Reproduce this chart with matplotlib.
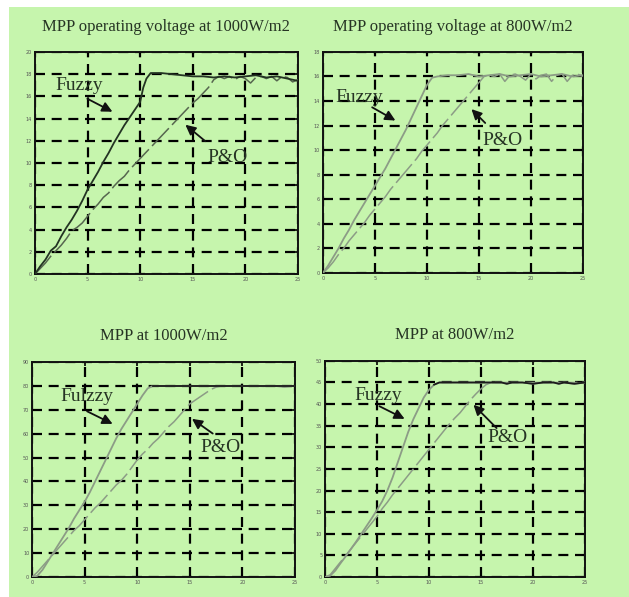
import numpy as np
import matplotlib
matplotlib.use("Agg")
import matplotlib.pyplot as plt
from matplotlib.patches import Rectangle

# ---- data (time axis 0..25) ----
# MPP operating voltage at 1000 W/m2
v1000_fz_x = [0, 0.5, 1, 1.5, 2, 2.5, 3, 3.5, 4, 4.5, 5, 5.5, 6, 6.5, 7, 7.5, 8, 8.5, 9, 9.5, 10,
              10.3, 10.6, 11, 12, 13, 14, 15, 16, 17, 18, 19, 20, 21, 22, 23, 24, 25]
v1000_fz_y = [0, 0.7, 1.3, 2.1, 2.5, 3.4, 4.2, 4.9, 5.7, 6.6, 7.6, 8.4, 9.2, 10.1, 10.9, 11.8, 12.6,
              13.4, 14.1, 14.8, 15.5, 16.8, 17.6, 18.1, 18.1, 18.0, 17.9, 17.8, 17.8, 17.7, 17.8,
              17.7, 17.8, 17.9, 17.7, 17.8, 17.6, 17.4]
v1000_po_x = [0, 0.5, 1, 1.5, 2, 2.5, 3, 3.5, 4, 4.5, 5, 5.5, 6, 6.5, 7, 7.5, 8, 8.5, 9, 9.5, 10,
              10.5, 11, 11.5, 12, 12.5, 13, 13.5, 14, 14.5, 15, 15.5, 16, 16.5, 17, 17.5, 18, 18.5,
              19, 19.5, 20, 20.5, 21, 21.5, 22, 22.5, 23, 23.5, 24, 24.5, 25]
v1000_po_y = [0, 0.5, 1.0, 1.6, 2.1, 2.6, 3.2, 3.9, 4.2, 4.6, 5.2, 5.8, 6.3, 6.9, 7.3, 7.9, 8.4,
              8.8, 9.4, 9.9, 10.4, 10.9, 11.4, 11.9, 12.4, 12.9, 13.4, 13.9, 14.4, 14.9, 15.4,
              15.8, 16.3, 16.8, 17.5, 17.8, 17.6, 17.8, 17.5, 17.8, 17.6, 17.2, 17.7, 17.8, 17.6,
              17.8, 17.4, 17.8, 17.7, 17.3, 17.5]

# MPP operating voltage at 800 W/m2
v800_fz_x = [0, 0.5, 1, 1.5, 2, 2.5, 3, 3.5, 4, 4.5, 5, 5.5, 6, 6.5, 7, 7.5, 8, 8.5, 9, 9.5, 10,
             10.5, 11, 12, 13, 14, 15, 16, 17, 18, 19, 20, 21, 22, 23, 24, 25]
v800_fz_y = [0, 0.6, 1.3, 2.0, 2.8, 3.5, 4.3, 5.0, 5.7, 6.4, 7.1, 7.8, 8.5, 9.3, 10.1, 10.9, 11.7,
             12.6, 13.5, 14.4, 15.3, 15.9, 16.0, 16.1, 16.1, 16.2, 16.0, 16.1, 16.2, 16.0, 16.1,
             16.2, 16.0, 16.1, 16.2, 16.0, 16.1]
v800_po_x = [0, 0.5, 1, 1.5, 2, 2.5, 3, 3.5, 4, 4.5, 5, 5.5, 6, 6.5, 7, 7.5, 8, 8.5, 9, 9.5, 10,
             10.5, 11, 11.5, 12, 12.5, 13, 13.5, 14, 14.5, 15, 15.5, 16, 16.5, 17, 17.5, 18, 18.5,
             19, 19.5, 20, 20.5, 21, 21.5, 22, 22.5, 23, 23.5, 24, 24.5, 25]
v800_po_y = [0, 0.4, 0.9, 1.5, 2.0, 2.6, 3.1, 3.6, 4.1, 4.7, 5.2, 5.7, 6.2, 6.8, 7.3, 7.8, 8.3,
             8.8, 9.3, 9.9, 10.4, 10.9, 11.4, 12.0, 12.5, 13.0, 13.5, 14.0, 14.5, 15.0, 15.5,
             16.0, 16.1, 16.0, 16.2, 15.6, 16.1, 16.2, 16.0, 15.7, 16.2, 15.8, 16.1, 16.2, 15.6,
             16.1, 16.2, 15.6, 16.1, 16.2, 16.0]

# MPP at 1000 W/m2
p1000_fz_x = [0, 0.5, 1, 1.5, 2, 2.5, 3, 3.5, 4, 4.5, 5, 5.5, 6, 6.5, 7, 7.5, 8, 8.5, 9, 9.5, 10,
              10.5, 11, 11.5, 12, 13, 14, 15, 16, 17, 18, 19, 20, 21, 22, 23, 24, 25]
p1000_fz_y = [0, 0.5, 3, 6.5, 10, 13.5, 17, 20.5, 24.5, 28, 31.5, 35.5, 40, 44.5, 49, 53.5, 58,
              62, 65.5, 69, 72.5, 76, 79, 80, 80, 80, 80, 80, 80, 80, 80, 80, 80, 80, 80, 80, 80, 80]
p1000_po_x = [0, 0.5, 1, 1.5, 2, 2.5, 3, 3.5, 4, 4.5, 5, 5.5, 6, 6.5, 7, 7.5, 8, 8.5, 9, 9.5, 10,
              10.5, 11, 11.5, 12, 12.5, 13, 13.5, 14, 14.5, 15, 15.5, 16, 16.5, 17, 17.5, 18, 19,
              20, 21, 22, 23, 24, 25]
p1000_po_y = [0, 2, 4.5, 7, 9.5, 12, 14.5, 17, 19.5, 21.5, 24, 26.5, 29, 31, 33.5, 36, 38.5, 40.5,
              43, 46, 49, 51.5, 53.5, 56, 58, 60.5, 63, 65, 67.5, 70, 72.5, 74, 75.5, 77, 78.5,
              79.5, 80, 80, 80, 80, 79.8, 80, 79.5, 80]

# MPP at 800 W/m2
p800_fz_x = [0, 0.5, 1, 1.5, 2, 2.5, 3, 3.5, 4, 4.5, 5, 5.5, 6, 6.5, 7, 7.5, 8, 8.5, 9, 9.5, 10,
             10.5, 11, 12, 13, 14, 15, 16, 17, 17.5, 18, 19, 20, 21, 22, 22.5, 23, 24, 25]
p800_fz_y = [0, 0.3, 1.5, 3.2, 4.8, 6.5, 8.2, 10, 11.8, 13.6, 15.5, 17.5, 20, 23, 26.5, 30, 33.5,
             36.5, 39, 41.5, 43.3, 44.5, 45, 45, 45, 45, 45, 45, 45, 44.7, 45, 45, 44.7, 45, 45,
             44.7, 45, 44.7, 45]
p800_po_x = [0, 0.5, 1, 1.5, 2, 2.5, 3, 3.5, 4, 4.5, 5, 5.5, 6, 6.5, 7, 7.5, 8, 8.5, 9, 9.5, 10,
             10.5, 11, 11.5, 12, 12.5, 13, 13.5, 14, 14.5, 15, 15.5, 16, 17, 18, 19, 20, 21, 22,
             23, 24, 25]
p800_po_y = [0, 0.5, 2, 3.5, 5, 6.5, 8, 9.5, 11, 12.5, 14, 15.8, 17.3, 19, 20.5, 22, 23.5, 25,
             26.5, 28, 29.5, 31, 32.5, 34, 35.5, 36.8, 38, 39.5, 41, 42.3, 43.5, 44.5, 45, 45, 45,
             45, 45, 45, 45, 45, 45, 45]

titles = ["MPP operating voltage at 1000W/m2", "MPP operating voltage at 800W/m2",
          "MPP at 1000W/m2", "MPP at 800W/m2"]
fuzzy_labels = ["Fuzzy", "Fuzzy", "Fulzzy", "Fuzzy"]
y_max = [20, 18, 90, 50]
y_step = [2, 2, 10, 5]

GREEN = "#c6f5ad"
serif = ["Liberation Serif", "DejaVu Serif"]

fig = plt.figure(figsize=(6.29, 5.97), dpi=100, facecolor="white")
fig.patches.append(Rectangle((9 / 629, 0), 1, 1 - 7 / 597, transform=fig.transFigure,
                             facecolor=GREEN, edgecolor="none", zorder=-10))

# axes rectangles in figure fractions
rects = [[0.0556, 0.541, 0.418, 0.372],
         [0.5135, 0.543, 0.413, 0.370],
         [0.0509, 0.0335, 0.418, 0.360],
         [0.5167, 0.0335, 0.413, 0.362]]

series = [(v1000_fz_x, v1000_fz_y, v1000_po_x, v1000_po_y),
          (v800_fz_x, v800_fz_y, v800_po_x, v800_po_y),
          (p1000_fz_x, p1000_fz_y, p1000_po_x, p1000_po_y),
          (p800_fz_x, p800_fz_y, p800_po_x, p800_po_y)]

# label / arrow placement (data coords): text, arrow tail, arrow head
fz_notes = [((4.2, 17.0), (4.75, 15.9), (7.6, 14.5)),
            ((3.5, 14.3), (4.5, 13.6), (7.2, 12.3)),
            ((5.2, 75.7), (5.0, 69.9), (7.9, 63.6)),
            ((5.1, 41.9), (5.0, 39.8), (7.9, 36.3))]
po_notes = [((18.3, 10.5), (16.4, 11.8), (14.1, 13.6)),
            ((17.3, 10.8), (15.8, 12.05), (14.1, 13.5)),
            ((17.9, 54.4), (17.4, 59.4), (15.0, 66.9)),
            ((17.6, 32.2), (16.7, 34.0), (14.1, 40.3))]

title_y = [27, 27, 336, 335]

for i, r in enumerate(rects):
    ax = fig.add_axes(r)
    ax.set_facecolor(GREEN)
    fx, fy, px, py = series[i]
    fz_col = "#233323" if i == 0 else "#8c9c86"
    po_col = "#56664f" if i == 0 else "#8c9c86"
    ax.plot(px, py, color=po_col, lw=1.1, ls=(0, (16, 3)), zorder=3)
    ax.plot(fx, fy, color=fz_col, lw=1.3, zorder=4)
    if i >= 2:
        k = int(np.argmax(np.array(fy) >= max(fy) - 0.5))
        ax.plot(fx[k:], fy[k:], color="#1c1c1c", lw=1.3, zorder=5)

    ax.set_xlim(0, 25)
    ax.set_ylim(0, y_max[i])
    ax.set_xticks(np.arange(0, 26, 5))
    ax.set_yticks(np.arange(0, y_max[i] + 1, y_step[i]))
    ax.tick_params(direction="in", length=3, width=1.2, top=True, right=True,
                   labelsize=3.5, labelcolor="#555555", pad=2)
    ax.grid(True, color="black", lw=1.6, ls=(0, (4.5, 3)))
    for s in ax.spines.values():
        s.set_linewidth(1.4)
        s.set_color("#111111")

    t, tail, head = fz_notes[i]
    ax.text(t[0], t[1], fuzzy_labels[i], family=serif, fontsize=14, color="#263424",
            ha="center", va="center", zorder=6)
    ax.annotate("", xy=head, xytext=tail,
                arrowprops=dict(arrowstyle="-|>,head_length=0.6,head_width=0.3",
                                color="#111111", lw=1.3), zorder=6)
    t, tail, head = po_notes[i]
    ax.text(t[0], t[1], "P&O", family=serif, fontsize=14, color="#263424",
            ha="center", va="center", zorder=6)
    ax.annotate("", xy=head, xytext=tail,
                arrowprops=dict(arrowstyle="-|>,head_length=0.6,head_width=0.3",
                                color="#111111", lw=1.3), zorder=6)

    cx = r[0] + r[2] / 2
    fig.text(cx, 1 - title_y[i] / 597, titles[i], family=serif, fontsize=12,
             color="#263424", ha="center", va="center")

fig.savefig("out.png", dpi=100, facecolor="white")
